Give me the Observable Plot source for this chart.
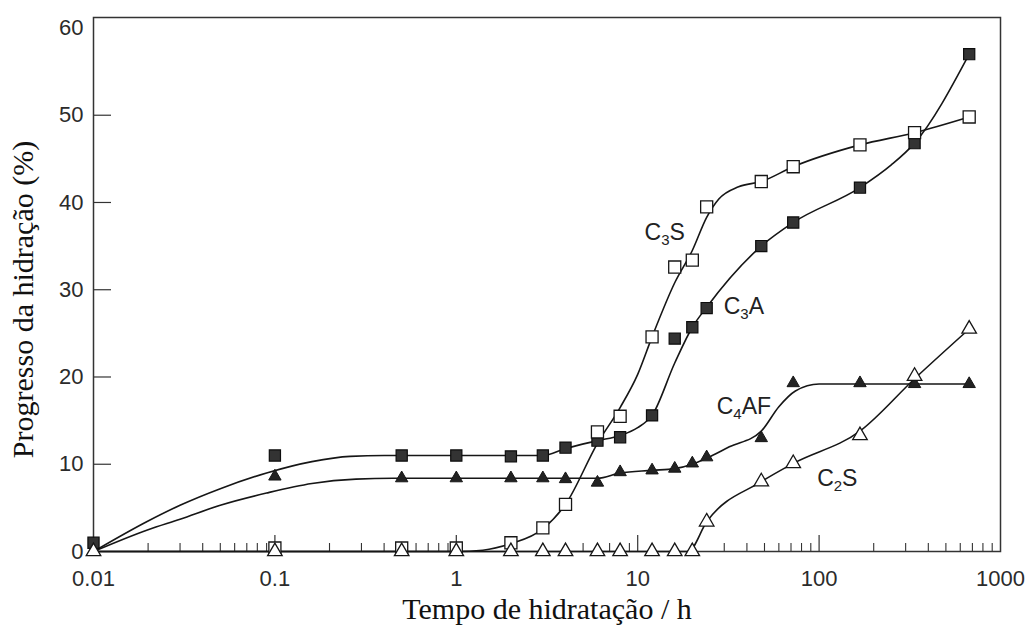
<!DOCTYPE html>
<html>
<head>
<meta charset="utf-8">
<script src="https://cdn.jsdelivr.net/npm/d3@7"></script>
<script src="https://cdn.jsdelivr.net/npm/@observablehq/plot@0.6"></script>
<style>
  html, body { margin: 0; padding: 0; background: #fff; }
  #chart { width: 1032px; height: 625px; }
</style>
</head>
<body>
<div id="chart"></div>
<script>
// Hydration times (h) at which the clinker phases were measured
const times = [0.01, 0.1, 0.5, 1, 2, 3, 4, 6, 8, 12, 16, 20, 24, 48, 72, 168, 336, 672];

// Measured degree of hydration (%) per phase, aligned with `times` (null = not plotted)
const c3sPoints  = [null, 0.4, 0.4, 0.4, 1.0, 2.7, 5.4, 13.7, 15.5, 24.6, 32.6, 33.4, 39.5, 42.4, 44.1, 46.6, 48.0, 49.8];
const c3aPoints  = [1.0, 11.0, 11.0, 11.0, 10.9, 11.0, 11.9, 12.7, 13.1, 15.6, 24.4, 25.7, 27.9, 35.0, 37.7, 41.7, 46.8, 57.0];
const c4afPoints = [null, 8.6, 8.4, 8.4, 8.4, 8.4, 8.3, 7.9, 9.1, 9.3, 9.5, 10.1, 10.8, 13.0, 19.3, 19.3, 19.2, 19.2];
const c2sPoints  = [0, 0, 0, 0, 0, 0, 0, 0, 0, 0, 0, 0, 3.4, 8.0, 10.1, 13.3, 20.1, 25.5];

// Fitted trend curves (knots along each smoothed line)
const c3sCurveT  = [0.01, 1, 1.4, 2, 3, 4, 6, 8, 10, 12, 16, 20, 24, 28, 36, 48, 72, 168, 336, 672];
const c3sCurveV  = [0, 0, 0.15, 0.9, 2.6, 5.4, 12.4, 16.5, 20.3, 24.6, 30.8, 34.5, 38.3, 40.4, 41.8, 42.4, 44.1, 46.6, 48.0, 49.8];
const c3aCurveT  = [0.01, 0.02, 0.03, 0.05, 0.09, 0.16, 0.26, 0.4, 3, 4, 6, 8, 10, 12, 16, 20, 24, 48, 72, 168, 250, 336, 672];
const c3aCurveV  = [0, 3.5, 5.3, 7.2, 9.0, 10.3, 10.9, 11.0, 11.0, 11.8, 12.7, 13.3, 14.2, 15.6, 21.6, 25.7, 28.0, 35.0, 37.7, 41.7, 44.3, 46.8, 57.0];
const c4afCurveT = [0.01, 0.02, 0.03, 0.05, 0.09, 0.16, 0.28, 0.45, 6, 8, 12, 16, 20, 24, 32, 48, 60, 74, 100, 672];
const c4afCurveV = [0, 2.5, 3.7, 5.3, 6.7, 7.8, 8.3, 8.4, 8.4, 9.0, 9.3, 9.5, 10.0, 10.7, 12.0, 13.8, 16.6, 18.4, 19.2, 19.2];
const c2sCurveT  = [0.01, 19, 24, 48, 72, 168, 336, 672];
const c2sCurveV  = [0, 0, 3.4, 8.0, 10.1, 13.8, 19.8, 25.5];

// Phase names and where their labels sit
const phases = ["C3S", "C3A", "C4AF", "C2S"];
const labelT = [14.1, 38.5, 38.5, 126];
const labelV = [36.6, 28.1, 16.6, 8.3];

// Axis ticks
const xTicks = [0.01, 0.1, 1, 10, 100, 1000];
const xTickLabels = ["0.01", "0.1", "1", "10", "100", "1000"];
const xMajorTicks = [0.1, 1, 10, 100];
const yTicks = [0, 10, 20, 30, 40, 50, 60];
const yTickLabels = ["0", "10", "20", "30", "40", "50", "60"];
const yInnerTicks = [10, 20, 30, 40, 50];

const xTitle = "Tempo de hidratação / h";
const yTitle = "Progresso da hidração (%)";

// minor log ticks 2..9 within each decade
const xMinorTicks = [0.01, 0.1, 1, 10, 100].flatMap(d => d3.range(2, 10).map(k => +(d * k).toPrecision(3)));

const measured = {C3S: c3sPoints, C3A: c3aPoints, C4AF: c4afPoints, C2S: c2sPoints};
const curves = {
  C3S: [c3sCurveT, c3sCurveV], C3A: [c3aCurveT, c3aCurveV],
  C4AF: [c4afCurveT, c4afCurveV], C2S: [c2sCurveT, c2sCurveV]
};

const points = phases.flatMap(p => times.map((t, i) => ({phase: p, t, v: measured[p][i]})).filter(d => d.v != null));
const curveRows = phases.flatMap(p => curves[p][0].map((t, i) => ({phase: p, t, v: curves[p][1][i]})));
const labels = phases.map((p, i) => ({name: p, t: labelT[i], v: labelV[i]}));

const W = 1032, H = 625, mL = 93, mR = 32, mT = 17, mB = 74;
const plotW = W - mL - mR, plotH = H - mT - mB;
const ink = "#161616";

const sel = p => points.filter(d => d.phase === p);

const chart = Plot.plot({
  width: W, height: H,
  marginLeft: mL, marginRight: mR, marginTop: mT, marginBottom: mB,
  style: {background: "#fff", fontFamily: "'Liberation Sans', Arial, sans-serif", fontSize: "22px", color: "#2b2b2b"},
  x: {type: "log", domain: [0.01, 1000], ticks: xTicks, tickFormat: d => xTickLabels[xTicks.indexOf(d)], tickSize: 0, tickPadding: 19, label: null},
  y: {domain: [0, 61.2], ticks: yTicks, tickFormat: d => yTickLabels[yTicks.indexOf(d)], tickSize: 0, tickPadding: 10, label: null},
  marks: [
    Plot.tickX(xMinorTicks, {x: d => d, insetTop: plotH - 8, stroke: "#333", strokeWidth: 1.1}),
    Plot.tickX(xMajorTicks, {x: d => d, insetTop: plotH - 16, stroke: "#333", strokeWidth: 1.2}),
    Plot.tickY(yInnerTicks, {y: d => d, insetRight: plotW - 18, stroke: "#333", strokeWidth: 1.2}),
    Plot.frame({stroke: "#333", strokeWidth: 1.5}),
    Plot.line(curveRows, {x: "t", y: "v", z: "phase", curve: "monotone-x", stroke: ink, strokeWidth: 1.6}),
    Plot.dot(sel("C4AF"), {x: "t", y: "v", symbol: "triangle", r: 4.6, fill: "#222", stroke: ink, strokeWidth: 1}),
    Plot.dot(sel("C3A"), {x: "t", y: "v", symbol: "square", r: 6.3, fill: "#333", stroke: "#0d0d0d", strokeWidth: 1.2}),
    Plot.dot(sel("C3S"), {x: "t", y: "v", symbol: "square", r: 6.8, fill: "#fff", stroke: ink, strokeWidth: 1.3}),
    Plot.dot(sel("C2S"), {x: "t", y: "v", symbol: "triangle", r: 5.4, fill: "#fff", stroke: ink, strokeWidth: 1.3}),
    Plot.text(labels, {x: "t", y: "v", text: "name", fontSize: 23, fill: "#222", textAnchor: "middle", lineAnchor: "middle",
      ariaDescription: "phase-label", fontFamily: "'Liberation Sans', Arial, sans-serif"}),
    Plot.text([xTitle], {text: d => d, frameAnchor: "bottom", textAnchor: "middle", lineAnchor: "middle", dy: 58, fontSize: 30, fill: "#111",
      fontFamily: "'Liberation Serif', 'Times New Roman', serif"}),
    Plot.text([yTitle], {text: d => d, frameAnchor: "left", textAnchor: "middle", lineAnchor: "middle", dx: -70, dy: 15, rotate: -90, fontSize: 30, fill: "#111",
      fontFamily: "'Liberation Serif', 'Times New Roman', serif"})
  ]
});

// Render the digits of the phase formulas as subscripts
d3.select(chart).selectAll('g[aria-description="phase-label"] text').each(function () {
  const t = d3.select(this);
  const s = t.text();
  t.text(null);
  const parts = s.match(/\d+|\D+/g);
  let lowered = false;
  parts.forEach(part => {
    const isSub = /^\d+$/.test(part);
    const span = t.append("tspan").text(part);
    if (isSub) { span.attr("font-size", 15).attr("dy", 5); lowered = true; }
    else if (lowered) { span.attr("dy", -5); lowered = false; }
  });
});

document.getElementById("chart").appendChild(chart);
</script>
</body>
</html>
